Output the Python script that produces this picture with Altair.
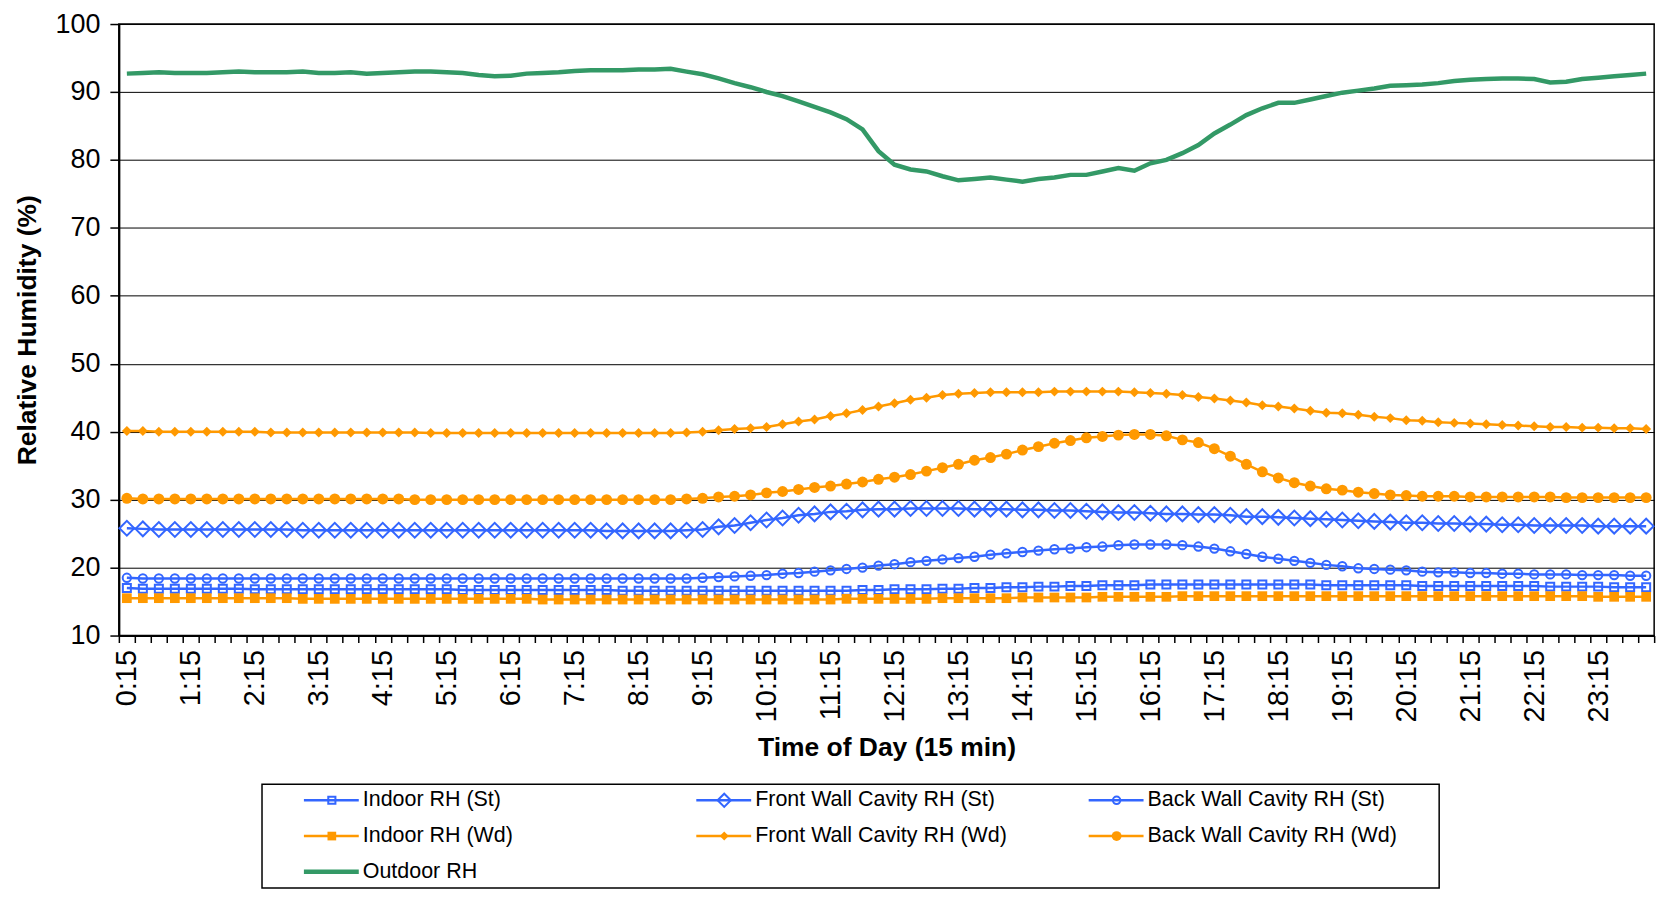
import altair as alt
import pandas as pd

# 15-minute categories 0:15 ... 24:00
TIMES = [f"{m // 60}:{m % 60:02d}" for m in range(15, 24 * 60 + 1, 15)]

SERIES = [
    "Indoor RH (St)",
    "Front Wall Cavity RH (St)",
    "Back Wall Cavity RH (St)",
    "Indoor RH (Wd)",
    "Front Wall Cavity RH (Wd)",
    "Back Wall Cavity RH (Wd)",
    "Outdoor RH",
]

indoor_st = [
    17.0, 16.9, 16.9, 16.9, 16.9, 16.9, 16.9, 16.9, 16.8, 16.8, 16.8, 16.8,
    16.8, 16.8, 16.8, 16.8, 16.8, 16.8, 16.8, 16.8, 16.8, 16.7, 16.7, 16.7,
    16.7, 16.7, 16.7, 16.7, 16.7, 16.7, 16.7, 16.6, 16.6, 16.6, 16.6, 16.6,
    16.6, 16.6, 16.6, 16.6, 16.6, 16.6, 16.6, 16.6, 16.6, 16.6, 16.7, 16.7,
    16.8, 16.8, 16.8, 16.9, 16.9, 17.0, 17.0, 17.1, 17.1, 17.2, 17.2, 17.3,
    17.3, 17.4, 17.4, 17.4, 17.5, 17.5, 17.5, 17.5, 17.5, 17.5, 17.5, 17.5,
    17.5, 17.5, 17.5, 17.4, 17.4, 17.4, 17.4, 17.4, 17.4, 17.3, 17.3, 17.3,
    17.3, 17.3, 17.3, 17.3, 17.3, 17.2, 17.2, 17.2, 17.2, 17.1, 17.1, 17.1,
]

front_st = [
    25.8, 25.7, 25.6, 25.6, 25.6, 25.6, 25.6, 25.6, 25.6, 25.6, 25.6, 25.5,
    25.5, 25.5, 25.5, 25.5, 25.5, 25.5, 25.5, 25.5, 25.5, 25.5, 25.5, 25.5,
    25.5, 25.5, 25.5, 25.5, 25.5, 25.5, 25.4, 25.4, 25.4, 25.4, 25.4, 25.5,
    25.6, 26.0, 26.2, 26.6, 27.0, 27.3, 27.7, 27.9, 28.2, 28.3, 28.5, 28.6,
    28.6, 28.7, 28.7, 28.7, 28.7, 28.6, 28.6, 28.6, 28.5, 28.5, 28.4, 28.4,
    28.3, 28.2, 28.1, 28.1, 28.0, 27.9, 27.9, 27.8, 27.8, 27.7, 27.5, 27.5,
    27.4, 27.3, 27.2, 27.1, 27.0, 26.9, 26.8, 26.7, 26.6, 26.6, 26.5, 26.5,
    26.4, 26.4, 26.3, 26.3, 26.2, 26.2, 26.2, 26.2, 26.1, 26.1, 26.1, 26.1,
]

back_st = [
    18.5, 18.4, 18.4, 18.4, 18.4, 18.4, 18.4, 18.4, 18.4, 18.4, 18.4, 18.4,
    18.4, 18.4, 18.4, 18.4, 18.4, 18.4, 18.4, 18.4, 18.4, 18.4, 18.4, 18.4,
    18.4, 18.4, 18.4, 18.4, 18.4, 18.4, 18.4, 18.4, 18.4, 18.4, 18.4, 18.4,
    18.5, 18.6, 18.7, 18.8, 18.9, 19.1, 19.2, 19.4, 19.6, 19.8, 20.0, 20.3,
    20.5, 20.8, 21.0, 21.2, 21.4, 21.6, 21.9, 22.1, 22.3, 22.5, 22.7, 22.8,
    23.0, 23.1, 23.3, 23.4, 23.4, 23.4, 23.3, 23.1, 22.8, 22.4, 22.0, 21.6,
    21.3, 21.0, 20.7, 20.4, 20.2, 19.9, 19.8, 19.7, 19.6, 19.4, 19.3, 19.3,
    19.2, 19.2, 19.1, 19.1, 19.0, 19.0, 19.0, 18.9, 18.9, 18.9, 18.8, 18.8,
]

indoor_wd = [
    15.5, 15.5, 15.5, 15.5, 15.5, 15.5, 15.5, 15.5, 15.5, 15.5, 15.5, 15.4,
    15.4, 15.4, 15.4, 15.4, 15.4, 15.4, 15.4, 15.4, 15.4, 15.4, 15.4, 15.4,
    15.4, 15.4, 15.3, 15.3, 15.3, 15.3, 15.3, 15.3, 15.3, 15.3, 15.3, 15.3,
    15.3, 15.3, 15.3, 15.3, 15.3, 15.3, 15.3, 15.3, 15.3, 15.4, 15.4, 15.4,
    15.4, 15.4, 15.4, 15.5, 15.5, 15.5, 15.5, 15.5, 15.6, 15.6, 15.6, 15.6,
    15.6, 15.7, 15.7, 15.7, 15.7, 15.7, 15.8, 15.8, 15.8, 15.8, 15.8, 15.8,
    15.8, 15.8, 15.8, 15.8, 15.8, 15.8, 15.8, 15.8, 15.8, 15.8, 15.8, 15.8,
    15.8, 15.8, 15.8, 15.8, 15.8, 15.8, 15.8, 15.8, 15.7, 15.7, 15.7, 15.7,
]

front_wd = [
    40.1, 40.1, 40.0, 40.0, 40.0, 40.0, 40.0, 40.0, 40.0, 39.9, 39.9, 39.9,
    39.9, 39.9, 39.9, 39.9, 39.9, 39.9, 39.9, 39.8, 39.8, 39.8, 39.8, 39.8,
    39.8, 39.8, 39.8, 39.8, 39.8, 39.8, 39.8, 39.8, 39.8, 39.8, 39.8, 39.9,
    40.0, 40.2, 40.4, 40.5, 40.7, 41.1, 41.5, 41.8, 42.3, 42.7, 43.2, 43.7,
    44.2, 44.7, 45.0, 45.4, 45.6, 45.7, 45.8, 45.8, 45.8, 45.8, 45.9, 45.9,
    45.9, 45.9, 45.9, 45.8, 45.7, 45.6, 45.4, 45.1, 44.9, 44.6, 44.3, 43.9,
    43.7, 43.4, 43.1, 42.8, 42.7, 42.5, 42.2, 42.0, 41.7, 41.6, 41.4, 41.3,
    41.2, 41.1, 41.0, 40.9, 40.8, 40.7, 40.7, 40.6, 40.6, 40.5, 40.5, 40.4,
]

back_wd = [
    30.2, 30.1, 30.1, 30.1, 30.1, 30.1, 30.1, 30.1, 30.1, 30.1, 30.1, 30.1,
    30.1, 30.1, 30.1, 30.1, 30.1, 30.1, 30.0, 30.0, 30.0, 30.0, 30.0, 30.0,
    30.0, 30.0, 30.0, 30.0, 30.0, 30.0, 30.0, 30.0, 30.0, 30.0, 30.0, 30.1,
    30.2, 30.4, 30.5, 30.7, 31.0, 31.2, 31.5, 31.8, 32.0, 32.3, 32.6, 33.0,
    33.3, 33.7, 34.2, 34.7, 35.2, 35.8, 36.2, 36.7, 37.3, 37.8, 38.3, 38.7,
    39.1, 39.3, 39.5, 39.6, 39.6, 39.4, 38.8, 38.4, 37.5, 36.4, 35.2, 34.1,
    33.2, 32.5, 32.0, 31.6, 31.4, 31.1, 30.9, 30.7, 30.6, 30.5, 30.5, 30.5,
    30.4, 30.4, 30.4, 30.4, 30.4, 30.4, 30.3, 30.3, 30.3, 30.3, 30.3, 30.3,
]

outdoor = [
    92.7, 92.8, 92.9, 92.8, 92.8, 92.8, 92.9, 93.0, 92.9, 92.9, 92.9, 93.0,
    92.8, 92.8, 92.9, 92.7, 92.8, 92.9, 93.0, 93.0, 92.9, 92.8, 92.5, 92.3,
    92.4, 92.7, 92.8, 92.9, 93.1, 93.2, 93.2, 93.2, 93.3, 93.3, 93.4, 93.0,
    92.6, 92.0, 91.3, 90.7, 90.0, 89.4, 88.6, 87.8, 87.0, 86.0, 84.5, 81.3,
    79.3, 78.6, 78.3, 77.6, 77.0, 77.2, 77.4, 77.1, 76.8, 77.2, 77.4, 77.8,
    77.8, 78.3, 78.8, 78.4, 79.5, 80.0, 81.0, 82.2, 83.9, 85.2, 86.6, 87.6,
    88.4, 88.4, 88.9, 89.4, 89.9, 90.2, 90.5, 90.9, 91.0, 91.1, 91.3, 91.6,
    91.8, 91.9, 92.0, 92.0, 91.9, 91.4, 91.5, 91.9, 92.1, 92.3, 92.5, 92.7,
]

VALUES = [indoor_st, front_st, back_st, indoor_wd, front_wd, back_wd, outdoor]

BLUE = "#3366FF"
ORANGE = "#FF9900"
GREEN = "#339966"
STYLE = {
    "Indoor RH (St)": dict(color=BLUE, shape="square", size=64, filled=False, width=2.5),
    "Front Wall Cavity RH (St)": dict(color=BLUE, shape="diamond", size=220, filled=False, width=2.5),
    "Back Wall Cavity RH (St)": dict(color=BLUE, shape="circle", size=70, filled=False, width=2.5),
    "Indoor RH (Wd)": dict(color=ORANGE, shape="square", size=95, filled=True, width=2.5),
    "Front Wall Cavity RH (Wd)": dict(color=ORANGE, shape="diamond", size=100, filled=True, width=2.5),
    "Back Wall Cavity RH (Wd)": dict(color=ORANGE, shape="circle", size=120, filled=True, width=2.5),
    "Outdoor RH": dict(color=GREEN, shape=None, size=0, filled=True, width=4.5),
}

rows = []
for name, vals in zip(SERIES, VALUES):
    for t, v in zip(TIMES, vals):
        rows.append({"time": t, "series": name, "value": v})
df = pd.DataFrame(rows)

FONT = "Liberation Sans"

x_enc = alt.X(
    "time:O",
    sort=TIMES,
    scale=alt.Scale(type="band", paddingInner=0, paddingOuter=0),
    axis=alt.Axis(
        title="Time of Day (15 min)",
        labelAngle=-90,
        labelExpr="slice(datum.label, -3) == ':15' ? datum.label : ''",
        labelOverlap=False,
        tickBand="extent",
        tickSize=7,
        labelPadding=7,
        labelFontSize=29,
        titlePadding=13,
        grid=False,
    ),
)
y_enc = alt.Y(
    "value:Q",
    scale=alt.Scale(domain=[10, 100], nice=False, zero=False),
    axis=alt.Axis(
        title="Relative Humidity (%)",
        values=[10, 20, 30, 40, 50, 60, 70, 80, 90, 100],
        tickSize=9,
        labelPadding=10,
        labelFontSize=27,
        titlePadding=14,
        grid=True,
    ),
)

layers = []
for name in SERIES:
    st = STYLE[name]
    sub = alt.Chart(df).transform_filter(alt.datum.series == name).encode(x=x_enc, y=y_enc)
    layers.append(sub.mark_line(color=st["color"], strokeWidth=st["width"]))
    if st["shape"]:
        layers.append(
            sub.mark_point(
                shape=st["shape"], size=st["size"], filled=st["filled"],
                color=st["color"], strokeWidth=2, opacity=1,
            )
        )

main = alt.layer(*layers).properties(width=1539, height=613)

# legend box below the plot
legend_df = pd.DataFrame({
    "series": SERIES,
    "col": [i % 3 for i in range(len(SERIES))],
    "row": [i // 3 for i in range(len(SERIES))],
})
lx = alt.X("col:Q", scale=alt.Scale(domain=[0, 3], nice=False, zero=False), axis=None)
ly = alt.Y(
    "row:Q",
    scale=alt.Scale(domain=[-0.45, 2.45], nice=False, zero=False, reverse=True),
    axis=alt.Axis(orient="right", labels=False, ticks=False, domain=False, grid=False,
                  title=None, minExtent=79, maxExtent=79),
)

leg_layers = []
for name in SERIES:
    st = STYLE[name]
    sub = alt.Chart(legend_df).transform_filter(alt.datum.series == name).encode(x=lx, y=ly)
    leg_layers.append(
        sub.mark_rule(color=st["color"], strokeWidth=st["width"], xOffset=42, x2Offset=97)
        .encode(x2=alt.X2("col:Q"))
    )
    if st["shape"]:
        leg_layers.append(
            sub.mark_point(
                shape=st["shape"], size=st["size"] * 0.8, filled=st["filled"],
                color=st["color"], strokeWidth=2, opacity=1, xOffset=70,
            )
        )
    leg_layers.append(
        sub.mark_text(align="left", baseline="middle", dx=101, fontSize=21.5,
                      font=FONT, color="black").encode(text="series:N")
    )

legend = alt.layer(*leg_layers).properties(width=1180, height=104)

chart = (
    alt.vconcat(main, legend, center=True, spacing=21)
    .properties(padding={"left": 5, "top": 0, "right": 0, "bottom": 0})
    .configure_view(stroke="black", strokeWidth=1.5)
    .configure_axis(
        labelFont=FONT, titleFont=FONT,
        labelFontSize=27, titleFontSize=26.5, titleFontWeight="bold",
        labelColor="black", titleColor="black",
        domainColor="black", domainWidth=2,
        tickColor="black", tickWidth=1.5,
        gridColor="black", gridWidth=1,
    )
)

chart.save("out.html", embed_options={"renderer": "svg", "actions": False})
